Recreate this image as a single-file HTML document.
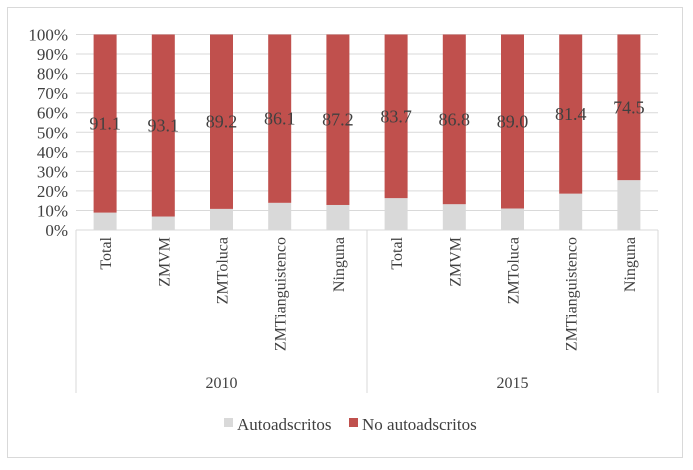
<!DOCTYPE html>
<html><head><meta charset="utf-8"><style>
body{margin:0;background:#fff;font-family:"Liberation Serif","Times New Roman",serif}
text{font-family:"Liberation Serif","Times New Roman",serif;fill:#404040}
</style></head><body>
<svg id="c" width="693" height="465" xmlns="http://www.w3.org/2000/svg" font-family="Liberation Serif, serif">
<rect x="7.5" y="7.5" width="675" height="450" fill="#fff" stroke="#d9d9d9"/>
</svg>
<script>
const categories=["Total","ZMVM","ZMToluca","ZMTianguistenco","Ninguna","Total","ZMVM","ZMToluca","ZMTianguistenco","Ninguna"];
const groups=["2010","2015"];
const noAuto=[91.1,93.1,89.2,86.1,87.2,83.7,86.8,89.0,81.4,74.5];
const yTicks=[0,10,20,30,40,50,60,70,80,90,100];
const NS="http://www.w3.org/2000/svg";
const svg=document.getElementById('c');
const X0=76,X1=658,Y0=230,Y1=34.5;
const cw=(X1-X0)/categories.length;
const y=v=>Y0-(v/100)*(Y0-Y1);
const xc=i=>X0+cw*(i+0.5);
function mk(t,a){const e=document.createElementNS(NS,t);for(const k in a)e.setAttribute(k,a[k]);if(t==='text'){e.setAttribute('font-family','Liberation Serif, serif');e.style.fontFamily='"Liberation Serif", serif';}svg.appendChild(e);return e;}
yTicks.forEach(t=>{
 const l=mk('line',{x1:X0,x2:X1,y1:y(t),y2:y(t),stroke:'#d9d9d9'});
 
 
 const tx=mk('text',{x:68,y:y(t)+6,'text-anchor':'end','font-size':'17'});
 tx.textContent=t+'%';
 
 
});
const bw=23;
categories.forEach((c,i)=>{
 const a=100-noAuto[i];
 const r1=mk('rect',{x:xc(i)-bw/2,y:y(a),width:bw,height:Y0-y(a),fill:'#d9d9d9'});
 
 
 const r2=mk('rect',{x:xc(i)-bw/2,y:y(100),width:bw,height:y(a)-y(100),fill:'#c0504d'});
 
 
 const lb=mk('text',{x:xc(i),y:y(a+noAuto[i]/2)+6,'text-anchor':'middle','font-size':'18'});
 lb.textContent=noAuto[i].toFixed(1);
 
 
 const cl=mk('text',{'text-anchor':'end','font-size':'16',transform:`translate(${xc(i)+6},237) rotate(-90)`});
 cl.textContent=c;
 
 
});
[0,5,10].forEach(k=>{
 const l=mk('line',{x1:X0+cw*k,x2:X0+cw*k,y1:Y0,y2:393,stroke:'#d9d9d9'});
 
 
});
const ax=mk('line',{x1:X0,x2:X1,y1:Y0,y2:Y0,stroke:'#d9d9d9'});


groups.forEach((g,j)=>{
 const t=mk('text',{x:X0+cw*(j*5+2.5),y:388,'text-anchor':'middle','font-size':'16'});
 t.textContent=g;
 
 
});
const leg=[["Autoadscritos","#d9d9d9",224],["No autoadscritos","#c0504d",349]];
leg.forEach(([n,col,lx])=>{
 const r=mk('rect',{x:lx,y:418,width:9,height:9,fill:col});
 
 
 const t=mk('text',{x:lx+13,y:430,'font-size':'17'});
 t.textContent=n;
 
 
});
</script>
</body></html>
